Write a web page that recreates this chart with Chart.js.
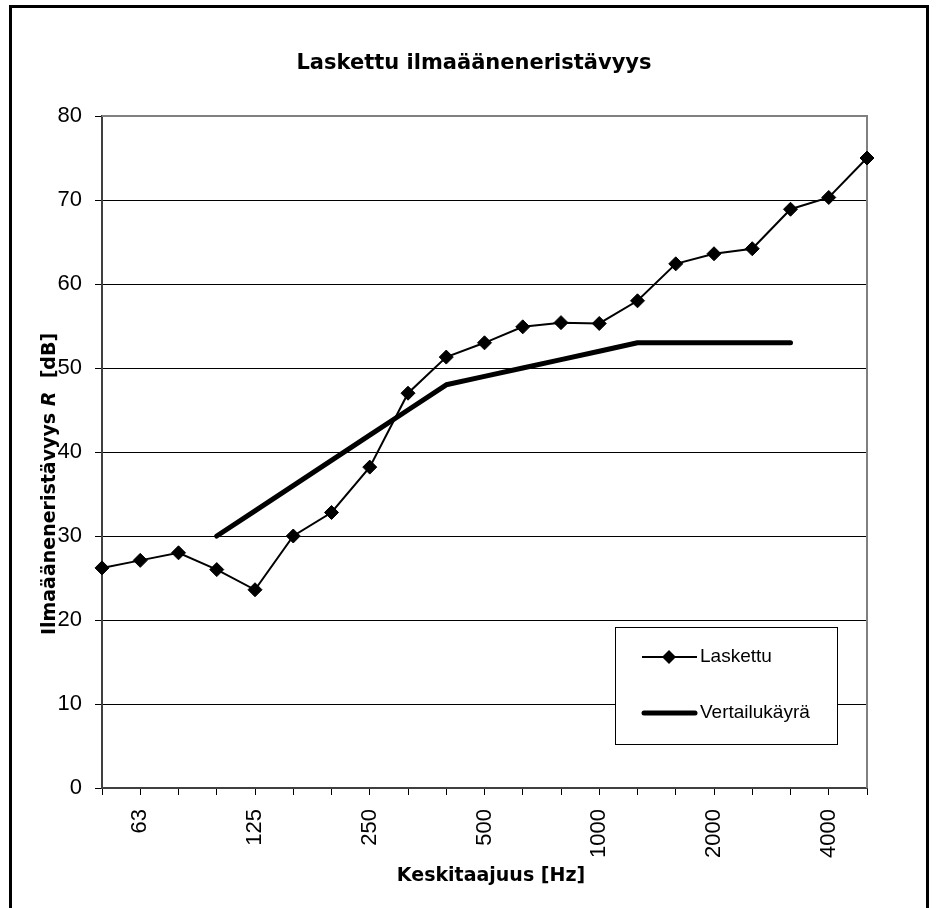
<!DOCTYPE html>
<html>
<head>
<meta charset="utf-8">
<title>Laskettu ilmaääneneristävyys</title>
<script src="https://cdn.jsdelivr.net/npm/chart.js@4/dist/chart.umd.min.js"></script>
<style>
  html, body { margin: 0; padding: 0; background: #fff; }
  canvas { display: block; }
</style>
</head>
<body>
<canvas id="chart" width="936" height="908"></canvas>
<script>
// Terssikaistat (Hz) ja näytettävät akselitekstit
const frequencies = ['50', '63', '80', '100', '125', '160', '200', '250', '315', '400', '500',
                     '630', '800', '1000', '1250', '1600', '2000', '2500', '3150', '4000', '5000'];
const shownTicks = ['63', '125', '250', '500', '1000', '2000', '4000'];

// Laskettu ilmaääneneristävyys R (dB)
const laskettu = [26.2, 27.1, 28.0, 26.0, 23.6, 30.0, 32.8, 38.2, 47.0, 51.3, 53.0,
                  54.9, 55.4, 55.3, 58.0, 62.4, 63.6, 64.2, 68.9, 70.3, 75.0];

// Vertailukäyrä (dB), 100...3150 Hz
const vertailu = [null, null, null, 30, 33, 36, 39, 42, 45, 48, 49,
                  50, 51, 52, 53, 53, 53, 53, 53, null, null];

const yMin = 0;
const yMax = 80;
const yStep = 10;

const titleText = 'Laskettu ilmaääneneristävyys';
const xTitleText = 'Keskitaajuus [Hz]';
const legendLabels = ['Laskettu', 'Vertailukäyrä'];

// Kehys, otsikot ja selite piirretään itse
const decorations = {
    id: 'decorations',
    beforeDraw(chart) {
        const ctx = chart.ctx;
        ctx.save();
        ctx.fillStyle = '#fff';
        ctx.fillRect(0, 0, chart.width, chart.height);
        ctx.restore();
    },
    beforeDatasetsDraw(chart) {
        const ctx = chart.ctx;
        const a = chart.chartArea;
        ctx.save();
        ctx.strokeStyle = '#808080';
        ctx.lineWidth = 2;
        ctx.beginPath();
        ctx.moveTo(a.left, a.top);
        ctx.lineTo(a.right, a.top);
        ctx.lineTo(a.right, a.bottom);
        ctx.stroke();
        ctx.restore();
    },
    afterDraw(chart) {
        const ctx = chart.ctx;
        ctx.save();

        // ulkokehys
        ctx.strokeStyle = '#000';
        ctx.lineWidth = 3;
        ctx.strokeRect(10.5, 6.5, 917, 1000);

        // otsikko
        ctx.fillStyle = '#000';
        ctx.textAlign = 'center';
        ctx.textBaseline = 'middle';
        ctx.font = 'bold 21px "DejaVu Sans"';
        ctx.fillText(titleText, 474, 64);

        // x-akselin otsikko
        ctx.font = 'bold 19px "DejaVu Sans"';
        ctx.fillText(xTitleText, 491, 876);

        // y-akselin otsikko, R kursiivilla
        const parts = [
            ['bold 19px "DejaVu Sans"', 'Ilmaääneneristävyys '],
            ['italic bold 19px "DejaVu Sans"', 'R'],
            ['bold 19px "DejaVu Sans"', '  [dB]']
        ];
        let total = 0;
        parts.forEach(p => { ctx.font = p[0]; total += ctx.measureText(p[1]).width; });
        ctx.translate(50, 484);
        ctx.rotate(-Math.PI / 2);
        ctx.textAlign = 'left';
        let px = -total / 2;
        parts.forEach(p => {
            ctx.font = p[0];
            ctx.fillText(p[1], px, 0);
            px += ctx.measureText(p[1]).width;
        });
        ctx.setTransform(1, 0, 0, 1, 0, 0);

        // selite
        ctx.fillStyle = '#fff';
        ctx.fillRect(615, 627, 222, 117);
        ctx.strokeStyle = '#000';
        ctx.lineWidth = 1;
        ctx.strokeRect(615.5, 627.5, 222, 117);

        ctx.lineWidth = 2;
        ctx.beginPath();
        ctx.moveTo(642, 657);
        ctx.lineTo(697, 657);
        ctx.stroke();
        ctx.fillStyle = '#000';
        ctx.beginPath();
        ctx.moveTo(669, 650);
        ctx.lineTo(676, 657);
        ctx.lineTo(669, 664);
        ctx.lineTo(662, 657);
        ctx.closePath();
        ctx.fill();

        ctx.lineWidth = 5;
        ctx.lineCap = 'round';
        ctx.beginPath();
        ctx.moveTo(644, 713);
        ctx.lineTo(695, 713);
        ctx.stroke();

        ctx.font = '19px "Liberation Sans"';
        ctx.textAlign = 'left';
        ctx.textBaseline = 'middle';
        ctx.fillText(legendLabels[0], 700, 657);
        ctx.fillText(legendLabels[1], 700, 713);

        ctx.restore();
    }
};

const ctx = document.getElementById('chart').getContext('2d');
const chart = new Chart(ctx, {
    type: 'line',
    data: {
        labels: frequencies,
        datasets: [
            {
                label: legendLabels[0],
                data: laskettu,
                borderColor: '#000',
                backgroundColor: '#000',
                borderWidth: 2,
                pointStyle: 'rectRot',
                pointRadius: 7,
                pointBorderWidth: 1,
                pointBackgroundColor: '#000',
                pointBorderColor: '#000',
                tension: 0,
                clip: false
            },
            {
                label: legendLabels[1],
                data: vertailu,
                borderColor: '#000',
                borderWidth: 5,
                borderCapStyle: 'round',
                borderJoinStyle: 'round',
                pointRadius: 0,
                tension: 0,
                clip: false
            }
        ]
    },
    options: {
        responsive: false,
        animation: false,
        devicePixelRatio: 1,
        layout: { padding: { top: 116, right: 69, bottom: 0, left: 0 } },
        plugins: {
            legend: { display: false },
            title: { display: false },
            tooltip: { enabled: false }
        },
        scales: {
            x: {
                offset: false,
                grid: {
                    drawOnChartArea: false,
                    drawTicks: true,
                    tickLength: 7,
                    tickColor: '#000'
                },
                border: { color: '#404040', width: 2 },
                ticks: {
                    autoSkip: false,
                    minRotation: 90,
                    maxRotation: 90,
                    padding: 14,
                    color: '#000',
                    font: { family: '"Liberation Sans"', size: 22 },
                    callback: function(value, index) {
                        const f = frequencies[index];
                        return shownTicks.includes(f) ? f : '';
                    }
                },
                afterFit: function(scale) {
                    scale.height = 120;
                    scale.paddingLeft = 0;
                    scale.paddingRight = 0;
                }
            },
            y: {
                min: yMin,
                max: yMax,
                grid: {
                    color: c => (c.tick && c.tick.value === yMax) ? '#808080' : '#000',
                    lineWidth: 1,
                    drawTicks: true,
                    tickLength: 7,
                    tickColor: '#000'
                },
                border: { color: '#404040', width: 2 },
                ticks: {
                    stepSize: yStep,
                    padding: 13,
                    color: '#000',
                    font: { family: '"Liberation Sans"', size: 22 }
                },
                afterFit: function(scale) {
                    scale.width = 102;
                    scale.paddingTop = 0;
                    scale.paddingBottom = 0;
                }
            }
        }
    },
    plugins: [decorations]
});
</script>
</body>
</html>
